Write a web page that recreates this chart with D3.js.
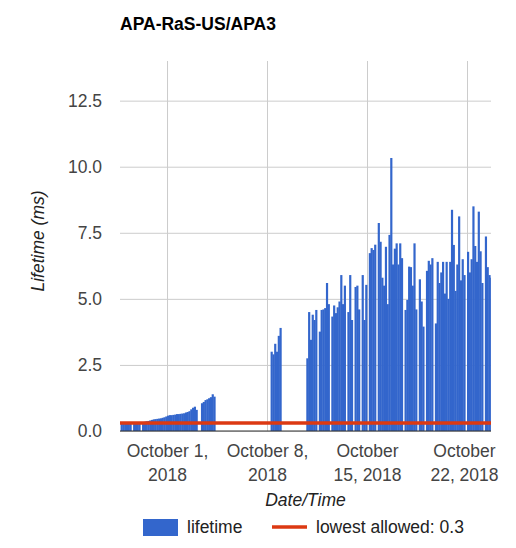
<!DOCTYPE html>
<html>
<head>
<meta charset="utf-8">
<script src="https://cdn.jsdelivr.net/npm/d3@7"></script>
<style>
    body { margin: 0; background: #fff; }
    #chart text { font-family: Arial, "Liberation Sans", sans-serif; }
</style>
</head>
<body>
<div id="chart"></div>
<script>

// Lifetime readings, one bar every 3 hours (null = no reading)
var stepHours = 3;

var lowStart = "2018-09-27 18:00";
var lowValues = [0.28, 0.28, 0.27, 0.28, 0.29, 0.28, null, 0.28, 0.3, 0.3, 0.3, null,
    0.33, 0.35, 0.37, 0.38, 0.4, 0.42, 0.44, 0.45, 0.46, 0.47, 0.48, 0.5, 0.52, 0.55,
    0.58, 0.6, 0.6, 0.61, 0.62, 0.64, 0.64, 0.65, 0.66, 0.67, 0.7, 0.72, 0.75, 0.82,
    0.88, 0.92, 0.8];

var lowStart2 = "2018-10-03 09:00";
var lowValues2 = [1.05, 1.1, 1.17, 1.2, 1.24, 1.28, 1.39, 1.3];

var midStart = "2018-10-08 06:00";
var midValues = [3.0, 2.9, 3.3, 3.0, 3.6, 3.9];

var highStart = "2018-10-10 18:00";
var highValues = [2.75, 4.5, 3.45, 4.4, 4.2, 4.58, null, 3.76, 4.58, 4.6, 4.65, 5.6,
    4.8, null, 4.33, 4.75, 4.46, 4.68, 4.9, 5.9, 4.8, 5.5, null, 4.5, 5.9, 4.2,
    null, 5.45, 5.5, 4.6, null, 5.9, 4.2, 5.53, null, 6.73, 6.92, 6.85, 7.05, null,
    7.87, 7.16, 5.8, 5.5, 6.97, 4.8, 7.42, 10.33, 6.3, 6.9, 7.1, 6.3, 7.1, 6.54,
    null, 4.58, 4.96, 6.22, 6.2, 5.5, 7.1, 4.6, null, 5.74, 4.9, 3.95, null, 6.06,
    6.44, 6.3, 6.54, null, 4.07, 6.4, 5.6, 6.0, 6.4, 5.2, 6.4, 5.0, 6.4, 8.37,
    7.04, 5.3, 6.3, 8.12, 5.7, 6.5, 5.9, null, 6.78, 6.0, 6.5, 8.5, 7.0, 6.4,
    8.3, 6.8, 5.6, null, 7.36, 6.2, 5.9, 5.8];

var lowestAllowed = 0.3;

var timeStart = "2018-09-27 17:00";
var timeEnd = "2018-10-23 16:20";
var yMax = 14;
var yTicks = [0, 2.5, 5, 7.5, 10, 12.5];
var xTickDates = ["2018-10-01 00:00", "2018-10-08 00:00", "2018-10-15 00:00", "2018-10-22 00:00"];
var xTickLabels = [["October 1,", "2018"], ["October 8,", "2018"], ["October", "15, 2018"], ["October", "22, 2018"]];


var parseTime = d3.utcParse("%Y-%m-%d %H:%M");

/*
 * LifetimeVis - Object constructor function
 */

LifetimeVis = function(_parentElement){
    this.parentElement = _parentElement;
    this.initVis();
}

LifetimeVis.prototype.initVis = function(){
    var vis = this;

    vis.margin = { top: 61, right: 25, bottom: 117, left: 120 };
    vis.width = 516 - vis.margin.left - vis.margin.right;
    vis.height = 548 - vis.margin.top - vis.margin.bottom;

    vis.root = d3.select("#" + vis.parentElement).append("svg")
        .attr("width", 516)
        .attr("height", 548);

    vis.root.append("text")
        .attr("x", 120)
        .attr("y", 30)
        .attr("font-size", "17.5px")
        .attr("font-weight", "bold")
        .attr("fill", "#000")
        .text("APA-RaS-US/APA3");

    vis.svg = vis.root.append("g")
        .attr("transform", "translate(" + vis.margin.left + "," + vis.margin.top + ")");

    vis.svg.append("clipPath")
        .attr("id", "plot-clip")
        .append("rect")
        .attr("width", vis.width)
        .attr("height", vis.height + 1);

    // Scales and axes
    vis.x = d3.scaleUtc()
        .domain([parseTime(timeStart), parseTime(timeEnd)])
        .range([0, vis.width]);

    vis.y = d3.scaleLinear()
        .domain([0, yMax])
        .range([vis.height, 0]);

    vis.yAxis = d3.axisLeft(vis.y)
        .tickValues(yTicks)
        .tickSize(-vis.width)
        .tickPadding(18)
        .tickFormat(d3.format(".1f"));

    vis.xAxis = d3.axisBottom(vis.x)
        .tickValues(xTickDates.map(parseTime))
        .tickSize(-vis.height)
        .tickFormat("");

    vis.svg.append("g")
        .attr("class", "y-axis axis");

    vis.svg.append("g")
        .attr("class", "x-axis axis")
        .attr("transform", "translate(0," + vis.height + ")");

    vis.bars = vis.svg.append("g")
        .attr("clip-path", "url(#plot-clip)");

    // Axis titles
    vis.svg.append("text")
        .attr("x", vis.width / 2)
        .attr("y", vis.height + 75)
        .attr("text-anchor", "middle")
        .attr("font-size", "17.5px")
        .attr("font-style", "italic")
        .attr("fill", "#222")
        .text("Date/Time");

    vis.svg.append("text")
        .attr("transform", "translate(-76," + (vis.y(yMax / 2) - 5) + ") rotate(-90)")
        .attr("text-anchor", "middle")
        .attr("font-size", "17.5px")
        .attr("font-style", "italic")
        .attr("fill", "#222")
        .text("Lifetime (ms)");

    vis.wrangleData();
}

LifetimeVis.prototype.wrangleData = function(){
    var vis = this;

    var segments = [[lowStart, lowValues], [lowStart2, lowValues2], [midStart, midValues], [highStart, highValues]];
    var step = stepHours * 3600 * 1000;

    vis.displayData = [];
    segments.forEach(function(seg){
        var t0 = parseTime(seg[0]).getTime();
        seg[1].forEach(function(v, i){
            if (v != null) {
                vis.displayData.push({ t0: new Date(t0 + i * step), t1: new Date(t0 + (i + 1) * step), lifetime: v });
            }
        });
    });

    vis.updateVis();
}

LifetimeVis.prototype.updateVis = function(){
    var vis = this;

    // grid + labels
    vis.svg.select(".y-axis").call(vis.yAxis)
        .call(g => g.select(".domain").remove())
        .call(g => g.selectAll(".tick line").attr("stroke", "#ccc"))
        .call(g => g.selectAll(".tick text").attr("font-size", "17.5px").attr("fill", "#444"));

    vis.svg.select(".x-axis").call(vis.xAxis)
        .call(g => g.select(".domain").remove())
        .call(g => g.selectAll(".tick line").attr("stroke", "#ccc"));

    var nTicks = xTickLabels.length;
    vis.svg.select(".x-axis").selectAll(".tick text")
        .attr("font-size", "17.5px")
        .attr("fill", "#444")
        .attr("dy", null)
        .each(function(d, i){
            var t = d3.select(this);
            // last label is nudged left so it stays inside the frame
            var shift = (i == nTicks - 1) ? -3 : 0;
            xTickLabels[i].forEach(function(line, j){
                t.append("tspan")
                    .attr("x", shift)
                    .attr("y", 26 + j * 23.5)
                    .text(line);
            });
        });

    vis.bars.selectAll(".bar")
        .data(vis.displayData)
        .enter().append("rect")
        .attr("class", "bar")
        .attr("fill", "#3366cc")
        .attr("x", d => vis.x(d.t0))
        .attr("width", d => vis.x(d.t1) - vis.x(d.t0) + 0.4)
        .attr("y", d => vis.y(d.lifetime))
        .attr("height", d => vis.height - vis.y(d.lifetime));

    // baseline
    vis.svg.append("line")
        .attr("x1", 0)
        .attr("x2", vis.width)
        .attr("y1", vis.y(0))
        .attr("y2", vis.y(0))
        .attr("stroke", "#333");

    // lowest allowed line
    var line = d3.line()
        .x(d => vis.x(d[0]))
        .y(d => vis.y(d[1]));

    vis.svg.append("path")
        .datum([[parseTime(timeStart), lowestAllowed], [parseTime(timeEnd), lowestAllowed]])
        .attr("fill", "none")
        .attr("stroke", "#dc3912")
        .attr("stroke-width", 3.5)
        .attr("d", line);

    // legend
    var legend = vis.root.append("g")
        .attr("font-size", "17.5px")
        .attr("fill", "#222");

    legend.append("rect")
        .attr("x", 143)
        .attr("y", 519)
        .attr("width", 35)
        .attr("height", 17)
        .attr("fill", "#3366cc");

    legend.append("text")
        .attr("x", 187)
        .attr("y", 533)
        .text("lifetime");

    legend.append("line")
        .attr("x1", 272)
        .attr("x2", 307)
        .attr("y1", 527)
        .attr("y2", 527)
        .attr("stroke", "#dc3912")
        .attr("stroke-width", 3.5);

    legend.append("text")
        .attr("x", 316)
        .attr("y", 533)
        .text("lowest allowed: " + lowestAllowed);
}

var lifetimeVis = new LifetimeVis("chart");

</script>
</body>
</html>
